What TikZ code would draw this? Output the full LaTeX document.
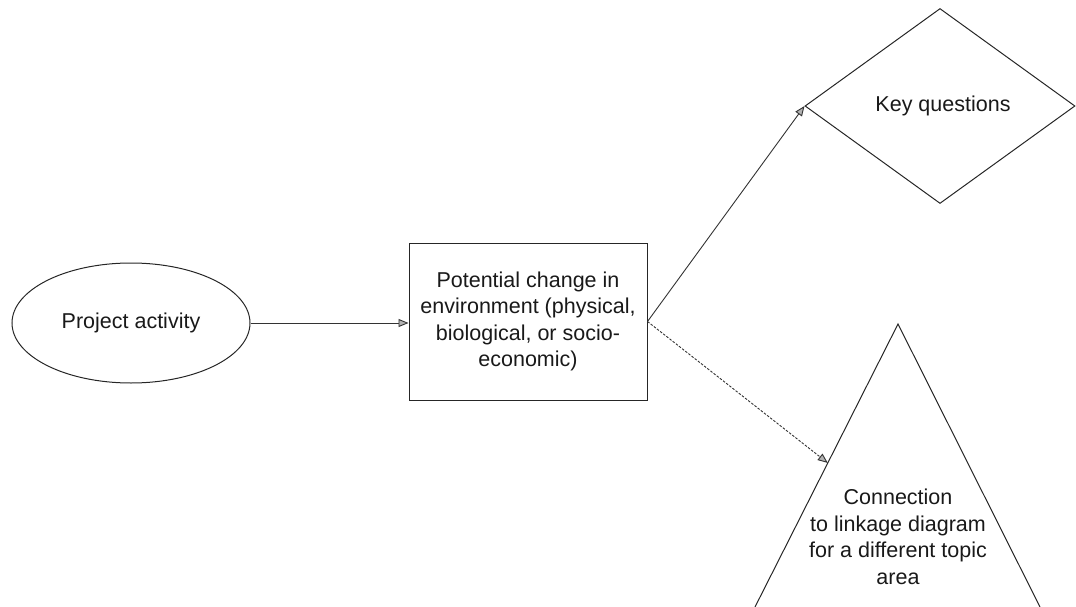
\documentclass[tikz,border=0pt]{standalone}
\usepackage{fontspec}
\setmainfont{Liberation Sans}
\usetikzlibrary{shapes.geometric,arrows.meta,calc}
\begin{document}
\begin{tikzpicture}[x=1pt,y=-1pt,
  lbl/.style={font=\fontsize{21.5}{26.5}\selectfont, text=black!90},
  shp/.style={draw=black!85, line width=1pt},
  arr/.style={draw=black!80, line width=0.9pt, -{Triangle[length=10pt,width=8pt,fill=gray!60]}},
  dasharr/.style={arr, dash pattern=on 2.5pt off 1.5pt}]
\useasboundingbox (0,0) rectangle (1076,607);
\node[shp, lbl, ellipse, minimum width=238pt, minimum height=120pt, inner sep=0] (act) at (131,323) {Project activity};
\node[shp, lbl, rectangle, minimum width=238pt, minimum height=157pt, align=center] (chg) at (528,321.5) {Potential change in\\environment (physical,\\biological, or socio-\\economic)};
\node[shp, lbl, diamond, minimum width=270pt, minimum height=195pt, inner sep=0] (key) at (940,106) {\hspace*{6pt}Key questions};
\coordinate (apex) at (898,324);
\coordinate (bl) at (755,607);
\coordinate (br) at (1040,607);
\draw[shp] (bl) -- (apex) -- (br);
\node[lbl, align=center] (conn) at (898,537) {Connection\\to linkage diagram\\for a different topic\\area};
\coordinate (triin) at ($(apex)!0.491!(bl)$);
\draw[arr] (act.east) -- (act.east -| chg.west);
\draw[arr] (chg.east) -- (key.west);
\draw[dasharr] (chg.east) -- (triin);
\end{tikzpicture}
\end{document}
